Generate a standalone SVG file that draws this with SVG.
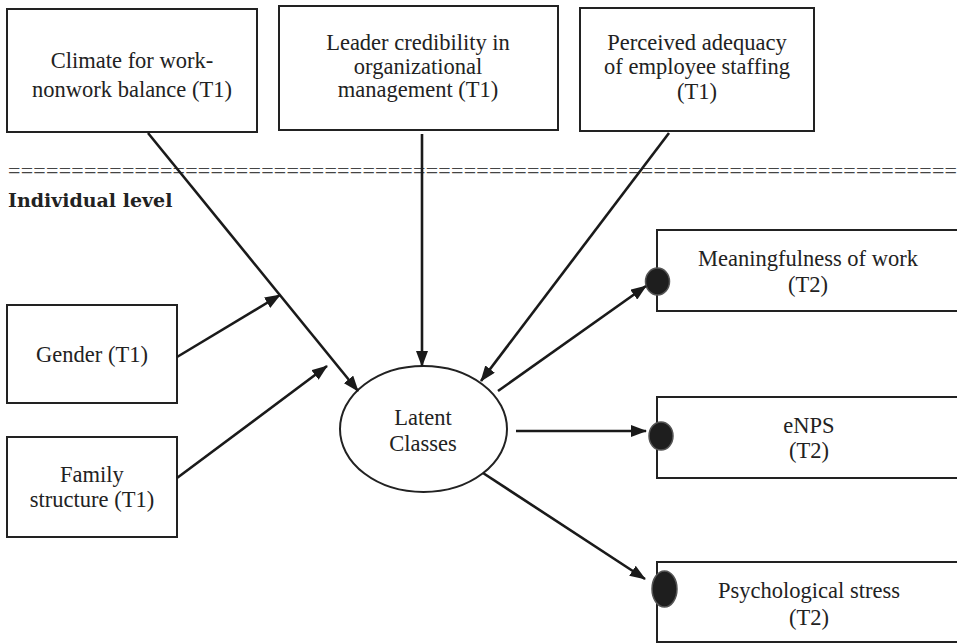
<svg xmlns="http://www.w3.org/2000/svg" width="957" height="643" viewBox="0 0 957 643">
<style>
.box{fill:#fff;stroke:#222;stroke-width:2}
.t{font-family:'Liberation Serif','DejaVu Serif',serif;font-size:22.5px;fill:#222;text-anchor:middle}
.con{stroke:#1a1a1a;stroke-width:2.6;fill:none;marker-end:url(#ah)}
.dot{fill:#1e1e1e;stroke:#555;stroke-width:1.5}
</style>
<defs>
<marker id="ah" markerUnits="userSpaceOnUse" markerWidth="16" markerHeight="12" refX="15" refY="6" orient="auto">
<path d="M0,0 L16,6 L0,12 z" fill="#1a1a1a"/>
</marker>
</defs>
<rect width="957" height="643" fill="#fff"/>
<text x="8" y="178" font-family="'Liberation Serif',serif" font-size="22" fill="#444" textLength="949" lengthAdjust="spacing">===========================================================================</text>
<text x="8" y="207" font-family="'DejaVu Serif','Liberation Serif',serif" font-weight="bold" font-size="19" fill="#222">Individual level</text>
<g id="climate"><rect class="box" x="7" y="9" width="250" height="123"/><text class="t" x="132" y="68">Climate for work-</text><text class="t" x="132" y="97">nonwork balance (T1)</text></g>
<g id="leader"><rect class="box" x="279" y="6" width="279" height="124"/><text class="t" x="418" y="50">Leader credibility in</text><text class="t" x="418" y="74">organizational</text><text class="t" x="418" y="97">management (T1)</text></g>
<g id="staffing"><rect class="box" x="580" y="8" width="234" height="123"/><text class="t" x="697" y="50">Perceived adequacy</text><text class="t" x="697" y="74">of employee staffing</text><text class="t" x="697" y="99">(T1)</text></g>
<g id="gender"><rect class="box" x="7" y="305" width="170" height="98"/><text class="t" x="92" y="362">Gender (T1)</text></g>
<g id="family"><rect class="box" x="7" y="437" width="170" height="100"/><text class="t" x="92" y="482">Family</text><text class="t" x="92" y="507">structure (T1)</text></g>
<g id="latent"><ellipse cx="423.5" cy="429" rx="83.5" ry="63" fill="#fff" stroke="#222" stroke-width="2"/><text class="t" x="423" y="425">Latent</text><text class="t" x="423" y="451">Classes</text></g>
<g id="meaning"><rect class="box" x="657" y="230" width="310" height="81"/><ellipse class="dot" cx="657.5" cy="281.5" rx="12" ry="13.5"/><text class="t" x="808" y="266">Meaningfulness of work</text><text class="t" x="808" y="292">(T2)</text></g>
<g id="enps"><rect class="box" x="657" y="397" width="310" height="81"/><ellipse class="dot" cx="661" cy="436" rx="12" ry="14"/><text class="t" x="809" y="433">eNPS</text><text class="t" x="809" y="458">(T2)</text></g>
<g id="stress"><rect class="box" x="657" y="562" width="310" height="80"/><ellipse class="dot" cx="664.5" cy="589" rx="12.5" ry="18"/><text class="t" x="809" y="598">Psychological stress</text><text class="t" x="809" y="625">(T2)</text></g>
<g id="connectors">
<line class="con" x1="148" y1="133" x2="358" y2="391"/>
<line class="con" x1="422" y1="134" x2="422" y2="366"/>
<line class="con" x1="669" y1="133" x2="481" y2="381"/>
<line class="con" x1="177" y1="357" x2="280" y2="295"/>
<line class="con" x1="177" y1="478" x2="327" y2="366"/>
<line class="con" x1="498" y1="391" x2="646" y2="286"/>
<line class="con" x1="516" y1="431" x2="646" y2="431"/>
<line class="con" x1="483" y1="473" x2="645" y2="579"/>
</g>
</svg>
